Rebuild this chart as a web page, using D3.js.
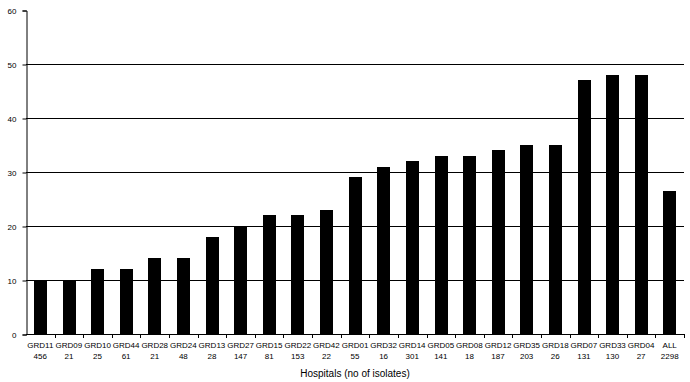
<!DOCTYPE html>
<html>
<head>
<meta charset="utf-8">
<script src="https://cdn.jsdelivr.net/npm/d3@7"></script>
<style>
  body { margin: 0; background: #fff; }
  text { font-family: "Liberation Sans", Arial, sans-serif; fill: #000; }
</style>
</head>
<body>
<svg id="chart" width="690" height="382"></svg>
<script>
// hospital codes, isolate counts and % values
let hospitals = ["GRD11","GRD09","GRD10","GRD44","GRD28","GRD24","GRD13","GRD27","GRD15","GRD22","GRD42","GRD01",
                 "GRD32","GRD14","GRD05","GRD08","GRD12","GRD35","GRD18","GRD07","GRD33","GRD04","ALL"];
let isolates = ["456","21","25","61","21","48","28","147","81","153","22","55",
                "16","301","141","18","187","203","26","131","130","27","2298"];
let values = [10,10,12,12,14,14,18,20,22,22,23,29,31,32,33,33,34,35,35,47,48,48,26.5];
let yTicks = [0,10,20,30,40,50,60];

let svg = d3.select("#chart");
let plotLeft = 26, plotRight = 684, plotTop = 10, plotBottom = 334;

let x = d3.scaleBand().domain(hospitals).range([plotLeft, plotRight]).paddingInner(0.56).paddingOuter(0.28);
let y = d3.scaleLinear().domain([0, 60]).range([plotBottom, plotTop]);

// gridlines
svg.append("g").selectAll("line")
    .data(yTicks.filter(d => d > 0 && d < 60))
    .enter()
    .append("line")
    .attr("x1", plotLeft).attr("x2", plotRight)
    .attr("y1", d => y(d) + 0.5).attr("y2", d => y(d) + 0.5)
    .attr("stroke", "#000").attr("stroke-width", 1);

// bars
svg.append("g").selectAll("rect")
    .data(values)
    .enter()
    .append("rect")
    .attr("x", (d, i) => Math.round(x(hospitals[i])))
    .attr("width", Math.round(x.bandwidth()))
    .attr("y", d => Math.round(y(d)))
    .attr("height", d => plotBottom - Math.round(y(d)))
    .attr("fill", "#000");

// y axis
let yAxis = svg.append("g").attr("transform", "translate(" + (plotLeft + 0.5) + ",0.5)")
    .call(d3.axisLeft(y).tickValues(yTicks).tickSize(4).tickPadding(6));
yAxis.select(".domain").attr("stroke", "#000");
yAxis.selectAll("text").style("font-size", "8px");

// x axis line and ticks between bands
svg.append("line")
    .attr("x1", plotLeft).attr("x2", plotRight)
    .attr("y1", plotBottom + 0.5).attr("y2", plotBottom + 0.5)
    .attr("stroke", "#000");
let bandW = (plotRight - plotLeft) / hospitals.length;
svg.append("g").selectAll("line")
    .data(hospitals)
    .enter()
    .append("line")
    .attr("x1", (d, i) => Math.round(plotLeft + (i + 1) * bandW) + 0.5)
    .attr("x2", (d, i) => Math.round(plotLeft + (i + 1) * bandW) + 0.5)
    .attr("y1", plotBottom).attr("y2", plotBottom + 4)
    .attr("stroke", "#000");

// category labels, two rows
let labels = svg.append("g").selectAll("text")
    .data(hospitals)
    .enter()
    .append("text")
    .attr("text-anchor", "middle")
    .style("font-size", "8px");
labels.append("tspan")
    .attr("x", d => x(d) + x.bandwidth() / 2)
    .attr("y", 348)
    .text(d => d);
labels.append("tspan")
    .attr("x", d => x(d) + x.bandwidth() / 2)
    .attr("y", 359)
    .text((d, i) => isolates[i]);

svg.append("text")
    .attr("x", 355).attr("y", 377)
    .attr("text-anchor", "middle")
    .style("font-size", "10px")
    .text("Hospitals (no of isolates)");
</script>
</body>
</html>
